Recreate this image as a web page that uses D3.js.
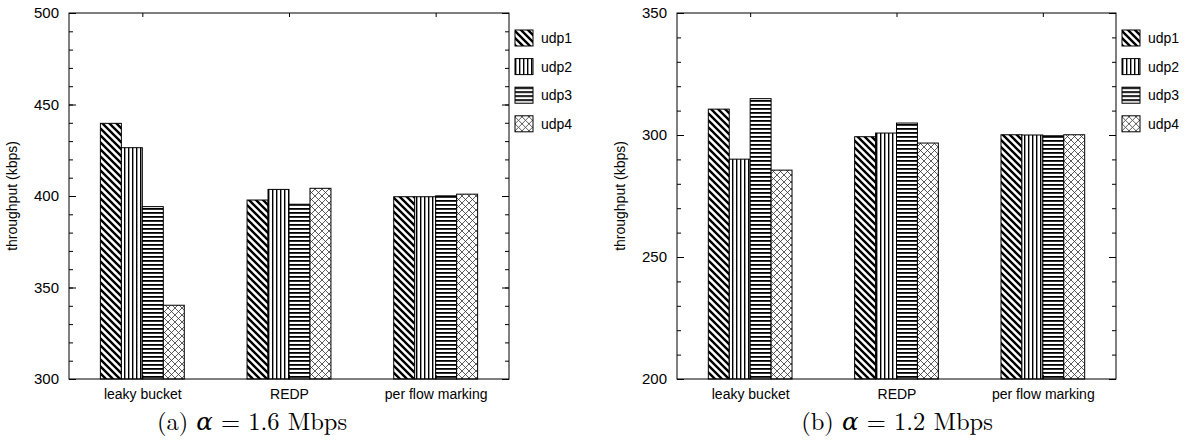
<!DOCTYPE html>
<html lang="en">
<head>
    <meta charset="UTF-8">
    <title>throughput bars</title>
    <style type="text/css">
        body { margin: 0; background: #fff; }
        svg { display: block; }
        .tick text { font-family: "Liberation Sans", Arial, sans-serif; fill: #000; }
        .caption { font-family: "Latin Modern Roman", "DejaVu Serif", serif; }
    </style>
</head>
<body>
    <div id="chart"></div>
    <script src="https://cdnjs.cloudflare.com/ajax/libs/d3/7.8.5/d3.min.js"></script>
    <script type="text/javascript">
        var categories = ["leaky bucket", "REDP", "per flow marking"];
        var series = ["udp1", "udp2", "udp3", "udp4"];

        // (a) alpha = 1.6 Mbps, one array per flow, across categories
        var udp1A = [439.7, 397.8, 399.6];
        var udp2A = [426.4, 403.6, 399.6];
        var udp3A = [394.2, 395.5, 400.1];
        var udp4A = [340.3, 404.2, 401.0];
        var ticksA = [300, 350, 400, 450, 500];

        // (b) alpha = 1.2 Mbps
        var udp1B = [310.6, 299.3, 300.1];
        var udp2B = [290.1, 300.8, 300.0];
        var udp3B = [314.9, 304.9, 299.7];
        var udp4B = [285.6, 296.7, 300.1];
        var ticksB = [200, 250, 300, 350];

        var W = 1192, H = 442;
        var plotTop = 13, plotBottom = 379;
        var boxW = 0.143; // bar width in category units

        var svg = d3.select("#chart").append("svg")
            .attr("width", W).attr("height", H);

        // fill patterns
        var defs = svg.append("defs");
        var p1 = defs.append("pattern").attr("id", "pat0")
            .attr("patternUnits", "userSpaceOnUse").attr("width", 7).attr("height", 7);
        p1.append("rect").attr("width", 7).attr("height", 7).attr("fill", "#fff");
        p1.append("path").attr("d", "M-1,-1L8,8M-1,6L1,8M6,-1L8,1")
            .attr("stroke", "#000").attr("stroke-width", 2.4);
        var p2 = defs.append("pattern").attr("id", "pat1")
            .attr("patternUnits", "userSpaceOnUse").attr("width", 4).attr("height", 4);
        p2.append("rect").attr("width", 4).attr("height", 4).attr("fill", "#fff");
        p2.append("rect").attr("x", 0).attr("width", 1.4).attr("height", 4).attr("fill", "#000");
        var p3 = defs.append("pattern").attr("id", "pat2")
            .attr("patternUnits", "userSpaceOnUse").attr("width", 4).attr("height", 4);
        p3.append("rect").attr("width", 4).attr("height", 4).attr("fill", "#fff");
        p3.append("rect").attr("y", 0).attr("width", 4).attr("height", 1.8).attr("fill", "#000");
        var p4 = defs.append("pattern").attr("id", "pat3")
            .attr("patternUnits", "userSpaceOnUse").attr("width", 7).attr("height", 7);
        p4.append("rect").attr("width", 7).attr("height", 7).attr("fill", "#fff");
        p4.append("path").attr("d", "M0,0L7,7M7,0L0,7")
            .attr("stroke", "#333").attr("stroke-width", 0.8);

        var panels = [
            { x0: 69, x1: 509, dom: [300, 500], ticks: ticksA, data: [udp1A, udp2A, udp3A, udp4A],
              legX: 515, capX: 252, tag: "(a)", rate: "1.6" },
            { x0: 677, x1: 1116, dom: [200, 350], ticks: ticksB, data: [udp1B, udp2B, udp3B, udp4B],
              legX: 1122, capX: 897, tag: "(b)", rate: "1.2" }
        ];

        panels.forEach(function(p) {
            var x = d3.scaleLinear().domain([-0.5, 2.5]).range([p.x0, p.x1]);
            var y = d3.scaleLinear().domain(p.dom).range([plotBottom, plotTop]);
            var minor = d3.range(p.dom[0], p.dom[1] + 1, 10);
            var g = svg.append("g");

            // bars
            p.data.forEach(function(vals, si) {
                g.selectAll(".b" + si).data(vals).enter().append("rect")
                    .attr("x", (d, i) => x(i - 2 * boxW + si * boxW))
                    .attr("width", x(boxW) - x(0))
                    .attr("y", d => y(d))
                    .attr("height", d => y(p.dom[0]) - y(d))
                    .attr("fill", "url(#pat" + si + ")")
                    .attr("stroke", "#000").attr("stroke-width", 1);
            });

            // axes
            g.append("g").attr("transform", "translate(" + p.x0 + ",0)")
                .call(d3.axisLeft(y).tickValues(minor).tickSize(-4).tickFormat(""));
            g.append("g").attr("transform", "translate(" + p.x1 + ",0)")
                .call(d3.axisRight(y).tickValues(minor).tickSize(-4).tickFormat(""));
            g.append("g").attr("transform", "translate(" + p.x0 + ",0)")
                .call(d3.axisLeft(y).tickValues(p.ticks).tickSize(-7).tickPadding(10))
                .selectAll("text").attr("font-size", 15);
            g.append("g").attr("transform", "translate(" + p.x1 + ",0)")
                .call(d3.axisRight(y).tickValues(p.ticks).tickSize(-7).tickFormat(""));
            g.append("g").attr("transform", "translate(0," + plotTop + ")")
                .call(d3.axisTop(x).tickValues([0, 1, 2]).tickSize(-4).tickFormat(""));
            g.append("g").attr("transform", "translate(0," + plotBottom + ")")
                .call(d3.axisBottom(x).tickValues([0, 1, 2]).tickSize(-4).tickPadding(10)
                    .tickFormat(i => categories[i]))
                .selectAll("text").attr("font-size", 14);
            g.selectAll(".domain").remove();
            g.selectAll(".tick line").attr("stroke", "#000");
            g.append("rect").attr("x", p.x0).attr("y", plotTop)
                .attr("width", p.x1 - p.x0).attr("height", plotBottom - plotTop)
                .attr("fill", "none").attr("stroke", "#000").attr("stroke-width", 1);

            // y label
            g.append("text")
                .attr("transform", "translate(" + (p.x0 - 52) + "," + ((plotTop + plotBottom) / 2) + ") rotate(-90)")
                .attr("text-anchor", "middle")
                .attr("font-family", "Liberation Sans, Arial, sans-serif")
                .attr("font-size", 14)
                .text("throughput (kbps)");

            // legend
            var leg = g.selectAll(".leg").data(series).enter().append("g")
                .attr("transform", (d, i) => "translate(" + p.legX + "," + (38 + i * 28.6) + ")");
            leg.append("rect").attr("x", 0).attr("y", -8).attr("width", 18).attr("height", 16)
                .attr("fill", (d, i) => "url(#pat" + i + ")")
                .attr("stroke", "#000").attr("stroke-width", 1);
            leg.append("text").attr("x", 26).attr("dy", "0.35em")
                .attr("font-family", "Liberation Sans, Arial, sans-serif")
                .attr("font-size", 14)
                .text(d => d);

            // caption
            var cap = g.append("text").attr("class", "caption")
                .attr("x", p.capX).attr("y", 430)
                .attr("text-anchor", "middle").attr("font-size", 24.5);
            cap.append("tspan").text(p.tag + " ");
            cap.append("tspan").attr("font-style", "italic").text("α");
            cap.append("tspan").text(" = " + p.rate + " Mbps");
        });
    </script>
</body>
</html>
